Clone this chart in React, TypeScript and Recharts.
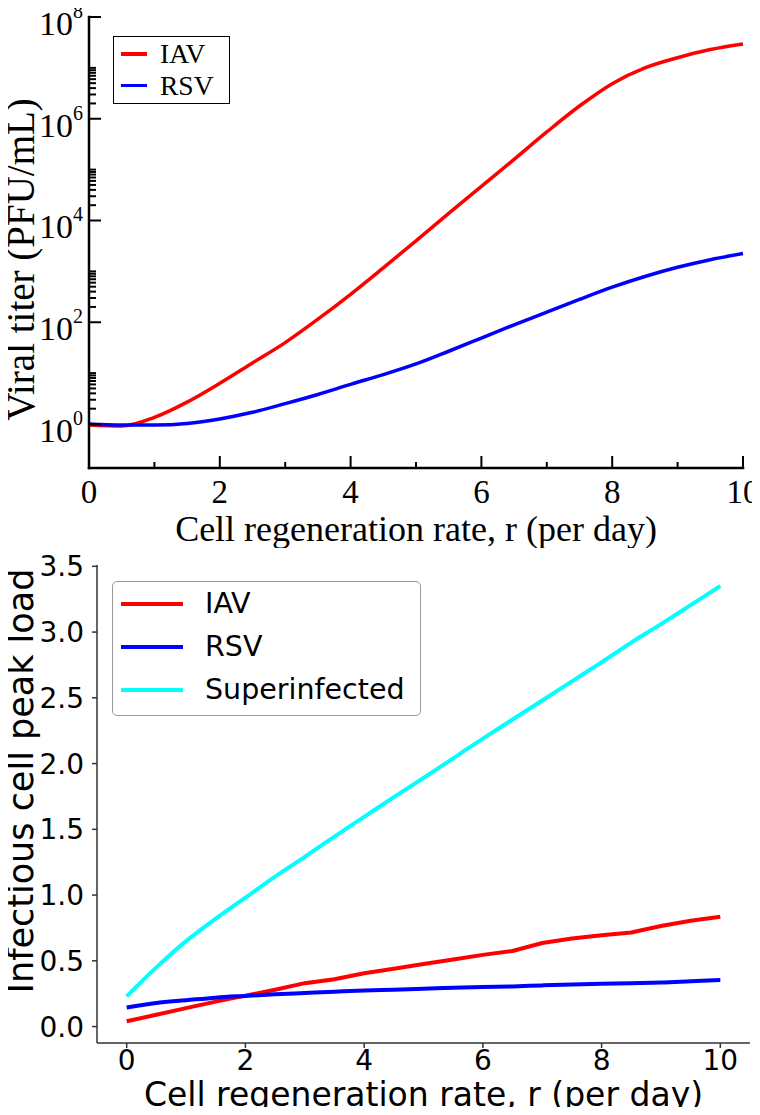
import React from 'react';
import { LineChart, Line, XAxis, YAxis, Legend } from 'recharts';

// regeneration rate r (per day), shared by both panels
const rates = [0, 0.5, 1, 1.5, 2, 2.5, 3, 3.5, 4, 4.5, 5, 5.5, 6, 6.5, 7, 7.5, 8, 8.5, 9, 9.5, 10];

// top panel: log10 of the viral titer (PFU/mL)
const iavTiterLog = [-0.02, -0.04, 0.13, 0.43, 0.8, 1.2, 1.6, 2.06, 2.55, 3.07, 3.6, 4.14, 4.67, 5.2, 5.74, 6.25, 6.69, 7.0, 7.2, 7.36, 7.47];
const rsvTiterLog = [0.0, -0.02, -0.02, 0.01, 0.1, 0.23, 0.4, 0.58, 0.78, 0.97, 1.18, 1.43, 1.69, 1.95, 2.2, 2.45, 2.69, 2.9, 3.08, 3.23, 3.35];

// bottom panel: infectious cell peak load
const iavPeak = [0.04, 0.09, 0.14, 0.19, 0.235, 0.28, 0.33, 0.36, 0.405, 0.44, 0.475, 0.51, 0.545, 0.575, 0.635, 0.67, 0.695, 0.715, 0.765, 0.805, 0.835];
const rsvPeak = [0.145, 0.18, 0.2, 0.22, 0.233, 0.245, 0.255, 0.265, 0.274, 0.28, 0.287, 0.295, 0.3, 0.305, 0.313, 0.32, 0.325, 0.33, 0.335, 0.345, 0.355];
const superPeak = [0.23, 0.45, 0.65, 0.82, 0.98, 1.14, 1.29, 1.445, 1.595, 1.745, 1.89, 2.04, 2.19, 2.335, 2.48, 2.625, 2.77, 2.92, 3.06, 3.205, 3.35];

// ticks
const rateTicks = [0, 1, 2, 3, 4, 5, 6, 7, 8, 9, 10];
const rateLabelTicks = [0, 2, 4, 6, 8, 10];
const peakTicks = [0, 0.5, 1, 1.5, 2, 2.5, 3, 3.5];
const titerMajorTicks = [1, 1e2, 1e4, 1e6, 1e8];
const titerMinorSteps = [2, 3, 4, 5, 6, 7, 8, 9, 10];

const titerTicks = [
  ...titerMajorTicks,
  ...titerMajorTicks.slice(0, -1).flatMap((m) => titerMinorSteps.map((k) => k * m)),
].sort((a, b) => a - b);

const titerData = rates.map((r, i) => ({
  r,
  iav: 10 ** iavTiterLog[i],
  rsv: 10 ** rsvTiterLog[i],
}));

const peakData = rates.map((r, i) => ({
  r,
  iav: iavPeak[i],
  rsv: rsvPeak[i],
  sup: superPeak[i],
}));

const serif = '"Liberation Serif", "Times New Roman", serif';
const sans = '"DejaVu Sans", sans-serif';
const frame = { stroke: '#000', strokeWidth: 2.5, strokeLinecap: 'square' as const };

// ---- top panel (grace-like, inward ticks on all sides) ----

function TiterTickLeft(props: any) {
  const { x, y, payload } = props;
  const v = payload.value;
  const major = titerMajorTicks.includes(v);
  const exp = Math.round(Math.log10(v));
  return (
    <g>
      <line x1={x} x2={x + (major ? 12 : 7)} y1={y} y2={y} stroke="#000" strokeWidth={2} />
      {major && (
        <text x={x - 6} y={y + 18} textAnchor="end" fontFamily={serif} fontSize={34} fill="#000">
          10<tspan dy={-17} fontSize={20}>{exp}</tspan>
        </text>
      )}
    </g>
  );
}

function TiterTickRight(props: any) {
  const { x, y, payload } = props;
  const major = titerMajorTicks.includes(payload.value);
  return <line x1={x} x2={x - (major ? 12 : 8)} y1={y} y2={y} stroke="#000" strokeWidth={2} />;
}

function RateTickBottom(props: any) {
  const { x, y, payload } = props;
  const major = payload.value % 2 === 0;
  return (
    <g>
      <line x1={x} x2={x} y1={y} y2={y - (major ? 12 : 6)} stroke="#000" strokeWidth={2} />
      {major && (
        <text x={x} y={y + 35} textAnchor="middle" fontFamily={serif} fontSize={33} fill="#000">
          {payload.value}
        </text>
      )}
    </g>
  );
}

function RateTickTop(props: any) {
  const { x, y, payload } = props;
  const major = payload.value % 2 === 0;
  return <line x1={x} x2={x} y1={y} y2={y + (major ? 12 : 6)} stroke="#000" strokeWidth={2} />;
}

function TopXLabel({ viewBox }: any) {
  const { x, y, width } = viewBox;
  return (
    <text x={x + width / 2} y={y + 73} textAnchor="middle" fontFamily={serif} fontSize={36} fill="#000">
      Cell regeneration rate, r (per day)
    </text>
  );
}

function TopYLabel({ viewBox }: any) {
  const { y, height } = viewBox;
  const cx = 34;
  const cy = y + height / 2 + 17;
  return (
    <text x={cx} y={cy} transform={`rotate(-90, ${cx}, ${cy})`} textAnchor="middle" fontFamily={serif} fontSize={39} fill="#000">
      Viral titer (PFU/mL)
    </text>
  );
}

function TopLegend({ payload }: any) {
  return (
    <div style={{ width: 117, height: 68, boxSizing: 'border-box', border: '1.5px solid #000', background: '#fff', paddingTop: 1, paddingLeft: 7 }}>
      {(payload || []).map((p: any) => (
        <div key={p.value} style={{ display: 'flex', alignItems: 'center', height: 31.6 }}>
          <div style={{ width: 26, height: 3.5, background: p.color, marginRight: 13 }} />
          <span style={{ fontFamily: serif, fontSize: 27.5, lineHeight: '31px', color: '#000' }}>{p.value}</span>
        </div>
      ))}
    </div>
  );
}

// ---- bottom panel (matplotlib-like) ----

function BottomXLabel({ viewBox }: any) {
  const { x, y, width } = viewBox;
  return (
    <text x={x + width / 2} y={y + 63} textAnchor="middle" fontFamily={sans} fontSize={33} fill="#000">
      Cell regeneration rate, r (per day)
    </text>
  );
}

function BottomYLabel({ viewBox }: any) {
  const { y, height } = viewBox;
  const cx = 33;
  const cy = y + height / 2 - 23;
  return (
    <text x={cx} y={cy} transform={`rotate(-90, ${cx}, ${cy})`} textAnchor="middle" fontFamily={sans} fontSize={35} fill="#000">
      Infectious cell peak load
    </text>
  );
}

function BottomLegend({ payload }: any) {
  return (
    <div style={{ width: 309, height: 135, boxSizing: 'border-box', border: '1.5px solid #999', borderRadius: 5, background: '#fff', paddingTop: 0, paddingLeft: 8 }}>
      {(payload || []).map((p: any) => (
        <div key={p.value} style={{ display: 'flex', alignItems: 'center', height: 43 }}>
          <div style={{ width: 62, height: 4, background: p.color, marginRight: 22 }} />
          <span style={{ fontFamily: sans, fontSize: 28.5, lineHeight: '43px', color: '#000' }}>{p.value}</span>
        </div>
      ))}
    </div>
  );
}

function TiterPanel() {
  return (
    <LineChart width={760} height={548} data={titerData} margin={{ top: 17, right: 17, bottom: 0, left: 0 }}>
      <XAxis
        dataKey="r"
        type="number"
        domain={[0, 10]}
        ticks={rateTicks}
        interval={0}
        height={80}
        tickSize={0}
        tickMargin={0}
        tickLine={false}
        axisLine={frame}
        tick={<RateTickBottom />}
        label={<TopXLabel />}
      />
      <XAxis
        xAxisId="top"
        orientation="top"
        dataKey="r"
        type="number"
        domain={[0, 10]}
        ticks={rateTicks}
        interval={0}
        height={0}
        tickSize={0}
        tickMargin={0}
        tickLine={false}
        axisLine={frame}
        tick={<RateTickTop />}
      />
      <YAxis
        scale="log"
        domain={[0.1365, 1e8]}
        allowDataOverflow
        ticks={titerTicks}
        interval={0}
        width={89}
        tickSize={0}
        tickMargin={0}
        tickLine={false}
        axisLine={frame}
        tick={<TiterTickLeft />}
        label={<TopYLabel />}
      />
      <YAxis
        yAxisId="right"
        orientation="right"
        scale="log"
        domain={[0.1365, 1e8]}
        allowDataOverflow
        ticks={titerTicks}
        interval={0}
        width={0}
        tickSize={0}
        tickMargin={0}
        tickLine={false}
        axisLine={frame}
        tick={<TiterTickRight />}
      />
      <Legend
        layout="vertical"
        align="center"
        verticalAlign="middle"
        wrapperStyle={{ left: 113, top: 36, width: 117, height: 68 }}
        content={<TopLegend />}
      />
      <Line type="monotone" dataKey="iav" name="IAV" stroke="#ff0000" strokeWidth={3.5} dot={false} activeDot={false} isAnimationActive={false} />
      <Line type="monotone" dataKey="rsv" name="RSV" stroke="#0000ff" strokeWidth={3.5} dot={false} activeDot={false} isAnimationActive={false} />
    </LineChart>
  );
}

function PeakPanel() {
  const spine = { stroke: '#333', strokeWidth: 1.5 };
  const tickFont = { fontSize: 28, fill: '#000', fontFamily: sans };
  return (
    <LineChart width={760} height={567} data={peakData} margin={{ top: 17, right: 10, bottom: 0, left: 0 }}>
      <XAxis
        dataKey="r"
        type="number"
        domain={[-0.5, 10.5]}
        ticks={rateLabelTicks}
        interval={0}
        height={72}
        tickSize={5}
        tickMargin={2}
        tickLine={spine}
        axisLine={spine}
        tick={tickFont}
        label={<BottomXLabel />}
      />
      <XAxis xAxisId="top" orientation="top" dataKey="r" type="number" domain={[-0.5, 10.5]} height={0} tick={false} tickLine={false} axisLine={spine} />
      <YAxis
        type="number"
        domain={[-0.125, 3.51]}
        allowDataOverflow
        ticks={peakTicks}
        interval={0}
        width={97}
        tickSize={5}
        tickMargin={8}
        tickLine={spine}
        axisLine={spine}
        tickFormatter={(v: number) => v.toFixed(1)}
        tick={tickFont}
        label={<BottomYLabel />}
      />
      <YAxis yAxisId="right" orientation="right" type="number" domain={[-0.125, 3.51]} width={0} tick={false} tickLine={false} axisLine={spine} />
      <Legend
        layout="vertical"
        align="center"
        verticalAlign="middle"
        wrapperStyle={{ left: 112, top: 33, width: 309, height: 135 }}
        content={<BottomLegend />}
      />
      <Line type="linear" dataKey="iav" name="IAV" stroke="#ff0000" strokeWidth={4} dot={false} activeDot={false} isAnimationActive={false} />
      <Line type="monotone" dataKey="rsv" name="RSV" stroke="#0000ff" strokeWidth={4} dot={false} activeDot={false} isAnimationActive={false} />
      <Line type="monotone" dataKey="sup" name="Superinfected" stroke="#00ffff" strokeWidth={4} dot={false} activeDot={false} isAnimationActive={false} />
    </LineChart>
  );
}

export default function App() {
  return (
    <div style={{ margin: -8, width: 760, background: '#fff' }}>
      <TiterPanel />
      <PeakPanel />
    </div>
  );
}
